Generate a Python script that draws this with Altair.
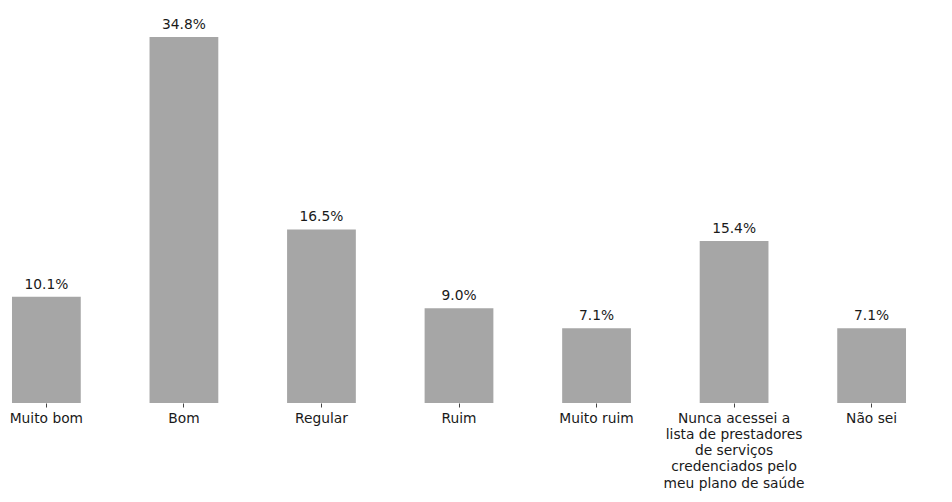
import altair as alt
import pandas as pd

categories = [
    "Muito bom",
    "Bom",
    "Regular",
    "Ruim",
    "Muito ruim",
    "Nunca acessei a|lista de prestadores|de serviços|credenciados pelo|meu plano de saúde",
    "Não sei",
]
values = [10.1, 34.8, 16.5, 9.0, 7.1, 15.4, 7.1]

df = pd.DataFrame({"cat": categories, "pct": values})
df["label"] = df["pct"].map(lambda v: f"{v:.1f}%")

FONT = "DejaVu Sans"

x = alt.X(
    "cat:N",
    sort=categories,
    title=None,
    scale=alt.Scale(paddingInner=0.5, paddingOuter=0.029),
    axis=alt.Axis(
        labelAngle=0,
        labelExpr="split(datum.value, '|')",
        labelFont=FONT,
        labelFontSize=13.8,
        labelColor="#1a1a1a",
        labelLineHeight=16.3,
        labelPadding=4,
        labelBaseline="top",
        domain=False,
        ticks=True,
        tickSize=4,
        tickWidth=1,
        tickColor="#444444",
        tickOpacity=1,
        tickBand="center",
        grid=False,
    ),
)
y = alt.Y("pct:Q", scale=alt.Scale(domain=[0, 34.8], nice=False), axis=None)

bars = alt.Chart(df).mark_bar(color="#a6a6a6").encode(x=x, y=y)
texts = alt.Chart(df).mark_text(
    font=FONT, fontSize=13.8, color="#1a1a1a", baseline="bottom", dy=-5
).encode(x=x, y=y, text="label:N")

chart = (
    (bars + texts)
    .properties(
        width=902,
        height=366,
        background="white",
        autosize=alt.AutoSizeParams(type="none"),
        padding={"left": 0, "top": 29, "right": 0, "bottom": 94},
    )
    .configure_view(strokeWidth=0)
)

chart.save("out.html", embed_options={"renderer": "svg", "actions": False})
